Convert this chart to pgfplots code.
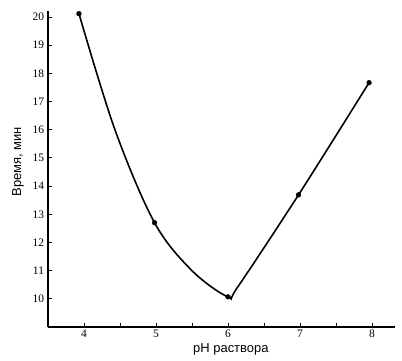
\documentclass[border=0pt]{standalone}
\usepackage{fontspec}
\setmainfont{Liberation Serif}
\newfontfamily\labelfont{Liberation Sans}
\usepackage{pgfplots}
\pgfplotsset{compat=1.18}
\begin{document}
\begin{tikzpicture}[x=1bp,y=1bp]
\begin{axis}[
  scale only axis,
  width=347bp, height=315.6bp,
  xmin=3.5, xmax=8.32, ymin=9, ymax=20.2,
  axis x line*=bottom, axis y line*=left,
  axis line style={line width=1.3pt,-},
  xtick={4,5,6,7,8},
  minor xtick={4.5,5.5,6.5,7.5},
  ytick={10,11,...,20},
  tick align=inside,
  major tick length=3.5bp, minor tick length=3.5bp,
  tick style={line width=0.9pt,black},
  /pgf/number format/assume math mode=true,
  tick label style={font=\fontsize{11.5}{13}\selectfont},
  xticklabel style={yshift=1bp},
  yticklabel style={xshift=-0.5bp},
  xlabel={\labelfont pH раствора},
  ylabel={\labelfont Время, мин},
  label style={font=\fontsize{13}{15}\selectfont},
  xlabel style={at={(rel axis cs:0.527,-0.072)}, anchor=center},
  ylabel style={at={(rel axis cs:-0.0865,0.524)}, anchor=center},
  clip=false,
]
\coordinate (SW) at (rel axis cs:0,0);
\coordinate (NE) at (rel axis cs:1,1);
\addplot[black, line width=1.6pt, smooth, tension=0.55] coordinates {
  (3.93,20.12) (4.43,16.0) (4.98,12.7) (5.5,11.0) (6.0,10.07) (6.13,10.4) (6.98,13.69) (7.96,17.67)
};
\addplot[only marks, mark=*, mark size=2.4pt, black] coordinates {
  (3.93,20.12) (4.98,12.7) (6.0,10.07) (6.98,13.69) (7.96,17.67)
};
\end{axis}
\pgfresetboundingbox
\path[use as bounding box] ([shift={(-48bp,-34bp)}]SW) rectangle ([shift={(7bp,11.4bp)}]NE);
\end{tikzpicture}
\end{document}
